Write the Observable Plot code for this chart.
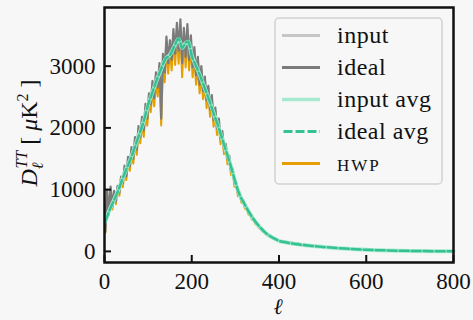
<!DOCTYPE html>
<html><head><meta charset="utf-8">
<script src="https://cdn.jsdelivr.net/npm/d3@7"></script>
<script src="https://cdn.jsdelivr.net/npm/@observablehq/plot@0.6"></script>
<style>
html,body{margin:0;padding:0;background:#f7f7f7;}
#chart svg{display:block;}
</style></head><body><div id="chart"></div>
<script>
// multipole grid for the noisy spectra (every 4th ell up to 398), then the smooth tail
const ellNoisy = d3.range(2, 400, 4);
const ellTail = [402, 410, 430, 460, 500, 550, 600, 650, 700, 750, 800];

const inputVals = [370,870,630,950,740,940,830,1030,970,1180,1130,1350,1250,1490,1410,1645,1540,1805,1690,1980,
  1880,2130,2005,2340,2200,2520,2420,2710,2530,2850,2700,3000,2390,3150,2960,3380,3090,3360,3150,3510,
  3250,3610,3300,3650,3130,3540,3220,3600,3170,3420,3030,3240,2900,3080,2750,2940,2640,2770,2490,2620,
  2330,2470,2160,2280,2020,2100,1850,1910,1680,1710,1510,1520,1330,1315,1115,1095,950,940,840,820,
  730,715,635,610,545,522,468,447,400,380,342,324,292,278,253,241,221,210,194,183];
const idealVals = [320,1000,620,1050,720,980,810,1060,950,1210,1100,1390,1220,1530,1380,1690,1500,1850,1650,2030,
  1850,2180,1960,2390,2150,2560,2380,2760,2480,2900,2650,3050,2150,3200,2900,3480,3050,3420,3100,3600,
  3200,3700,3250,3760,3050,3620,3150,3680,3100,3500,2980,3310,2850,3150,2700,3000,2600,2830,2450,2680,
  2300,2530,2130,2330,1990,2150,1830,1950,1660,1740,1490,1550,1310,1340,1100,1110,940,950,830,830,
  725,720,630,615,540,525,465,450,398,382,340,326,291,280,252,242,220,211,193,184];
const hwpVals = [300,950,585,1000,680,930,765,1005,900,1150,1040,1320,1155,1455,1305,1600,1420,1760,1565,1930,
  1750,2070,1855,2270,2035,2430,2255,2620,2350,2755,2510,2900,2040,3040,2740,3300,2880,3250,2930,3420,
  3020,3510,3040,3570,2820,3440,2980,3490,2930,3320,2820,3150,2700,2990,2560,2850,2465,2690,2320,2545,
  2180,2400,2020,2210,1885,2040,1735,1850,1575,1650,1410,1470,1240,1270,1045,1055,893,903,789,789,
  689,684,599,584,513,499,442,428,378,363,323,310,276,266,239,230,209,200,183,175];
const tailVals = [172,160,138,108,72,46,26,15,8,4,2];
const hwpTail = [166,154,133,104,69,44,25,14,8,4,2];

// binned averages
const avgEll = [2,10,20,30,40,50,60,70,80,90,100,110,120,130,140,150,160,170,178,186,192,200,210,220,230,240,
  250,260,270,280,290,300,310,320,330,340,350,360,370,380,390,400,420,450,500,550,600,650,700,750,800];
const idealAvg = [480,640,800,960,1150,1330,1500,1700,1900,2110,2380,2580,2780,2960,3120,3180,3320,3450,3290,3380,
  3400,3170,3000,2830,2640,2450,2240,2040,1820,1600,1370,1120,910,780,650,540,445,365,295,245,205,172,140,108,72,46,26,15,8,4,2];
const inputAvg = [490,645,805,965,1150,1335,1505,1700,1905,2110,2375,2580,2775,2955,3115,3185,3320,3440,3295,3375,
  3395,3175,3000,2830,2640,2450,2245,2040,1820,1600,1375,1120,910,780,650,540,445,365,295,245,205,172,140,108,72,46,26,15,8,4,2];

const xTicks = [0, 200, 400, 600, 800];
const yTicks = [0, 1000, 2000, 3000];
const legendLabels = ["input", "ideal", "input avg", "ideal avg", "HWP"];
const colors = {input: "#c6c6c6", ideal: "#7b7b7b", inputAvg: "#a6e9d0", idealAvg: "#34c290", hwp: "#e69f00"};

const rows = (xs, ys) => xs.map((x, i) => ({ell: x, D: ys[i]}));
const inputRows = rows([...ellNoisy, ...ellTail], [...inputVals, ...tailVals]);
const idealRows = rows([...ellNoisy, ...ellTail], [...idealVals, ...tailVals]);
const hwpRows = rows([...ellNoisy, ...ellTail], [...hwpVals, ...hwpTail]);
const inputAvgRows = rows(avgEll, inputAvg);
const idealAvgRows = rows(avgEll, idealAvg);

const font = "'Liberation Serif', 'Times New Roman', serif";

const svg = Plot.plot({
  width: 473, height: 320,
  marginLeft: 104, marginRight: 20, marginTop: 7, marginBottom: 58,
  style: {background: "transparent", fontFamily: font, fontSize: "23px", color: "#111", overflow: "visible"},
  x: {domain: [0, 800]},
  y: {domain: [-180, 3950]},
  marks: [
    Plot.line(hwpRows, {x: "ell", y: "D", stroke: colors.hwp, strokeWidth: 2}),
    Plot.line(inputRows, {x: "ell", y: "D", stroke: colors.input, strokeWidth: 2.2}),
    Plot.line(idealRows, {x: "ell", y: "D", stroke: colors.ideal, strokeWidth: 2.2}),
    Plot.line(inputAvgRows, {x: "ell", y: "D", stroke: colors.inputAvg, strokeWidth: 4, curve: "monotone-x"}),
    Plot.line(idealAvgRows, {x: "ell", y: "D", stroke: colors.idealAvg, strokeWidth: 2.5, strokeDasharray: "9,3", curve: "monotone-x"}),
    Plot.axisX(xTicks, {tickSize: -7, tickPadding: 17, strokeWidth: 2, label: null, tickFormat: d3.format("d")}),
    Plot.axisY(yTicks, {tickSize: -7, tickPadding: 16, strokeWidth: 2, label: null, tickFormat: d3.format("d")}),
    Plot.frame({stroke: "#111", strokeWidth: 2.5})
  ]
});
document.getElementById("chart").appendChild(svg);

const s = d3.select(svg);
// x label
s.append("text").attr("x", 278).attr("y", 314).attr("text-anchor", "middle")
  .attr("font-family", font).attr("font-size", 22).attr("font-style", "italic").attr("fill", "#111").text("ℓ");

// y label
const yl = s.append("text").attr("transform", "translate(37,133) rotate(-90)")
  .attr("text-anchor", "middle").attr("font-family", font).attr("font-size", 24).attr("fill", "#111");
yl.append("tspan").attr("font-style", "italic").text("D");
yl.append("tspan").attr("font-style", "italic").attr("font-size", 16).attr("dy", 6).text("ℓ");
yl.append("tspan").attr("font-style", "italic").attr("font-size", 16).attr("dx", -6).attr("dy", -16).text("TT");
yl.append("tspan").attr("dy", 10).attr("dx", 6).text("[ ");
yl.append("tspan").attr("font-style", "italic").text("μ");
yl.append("tspan").text("K");
yl.append("tspan").attr("font-size", 16).attr("dy", -9).text("2");
yl.append("tspan").attr("dy", 9).text(" ]");

// legend
const lg = s.append("g").attr("font-family", font).attr("fill", "#111").attr("text-anchor", "start");
lg.append("rect").attr("x", 275).attr("y", 18).attr("width", 167).attr("height", 166).attr("rx", 4)
  .attr("fill", "#f7f7f7").attr("stroke", "#d2d2d2").attr("stroke-width", 1.5);
const styles = [
  {c: colors.input, w: 3, d: null},
  {c: colors.ideal, w: 3, d: null},
  {c: colors.inputAvg, w: 3.5, d: null},
  {c: colors.idealAvg, w: 3, d: "9,3"},
  {c: colors.hwp, w: 3, d: null}
];
legendLabels.forEach((lab, i) => {
  const y = 35.5 + i * 32;
  lg.append("line").attr("x1", 282).attr("x2", 320).attr("y1", y).attr("y2", y)
    .attr("stroke", styles[i].c).attr("stroke-width", styles[i].w)
    .attr("stroke-dasharray", styles[i].d).attr("stroke-dashoffset", -1.5);
  lg.append("text").attr("x", 337).attr("y", y + 7).attr("text-anchor", "start")
    .attr("font-size", lab === "HWP" ? 17 : 24)
    .attr("letter-spacing", lab === "HWP" ? 2 : 0.5).text(lab);
});
</script></body></html>
